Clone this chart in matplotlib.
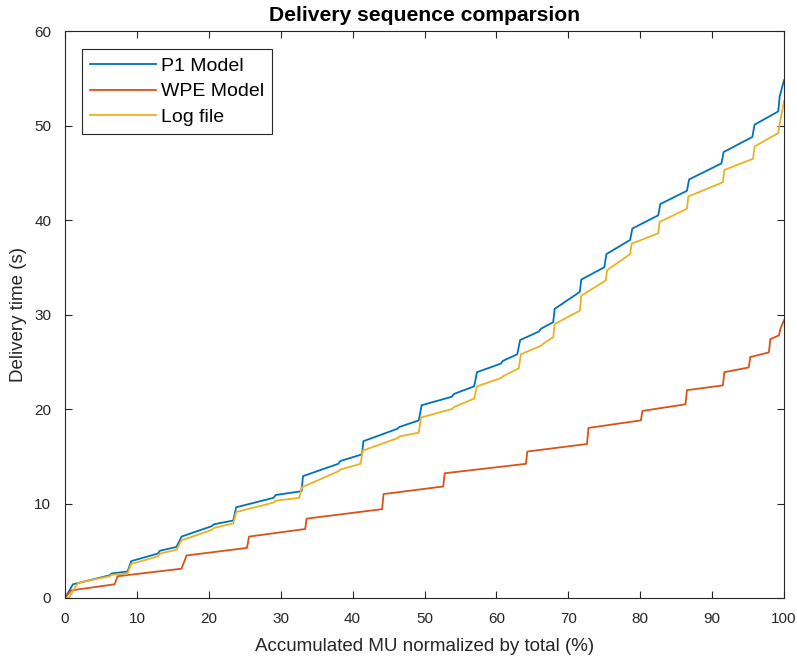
import matplotlib
matplotlib.use("Agg")
from matplotlib import pyplot as plt

# accumulated MU (%) and delivery time (s) for each curve
p1_mu = [0, 1.1, 6.2, 6.5, 8.7, 9.2,
         12.9, 13.2, 15.5, 16.2, 20.4, 20.7, 23.4, 23.8,
         29.0, 29.3, 32.9, 33.1, 38.0, 38.3, 41.3, 41.5,
         46.2, 46.5, 49.2, 49.6, 53.8, 54.1, 56.9, 57.3,
         60.6, 60.9, 62.9, 63.3, 65.9, 66.2, 67.9, 68.1,
         71.6, 71.8, 75.0, 75.3, 78.6, 78.9, 82.5, 82.8,
         86.5, 86.8, 91.3, 91.6, 95.6, 95.9, 99.2, 99.4, 100]
p1_time = [0, 1.45, 2.4, 2.6, 2.8, 3.9,
           4.7, 5.0, 5.4, 6.5, 7.6, 7.8, 8.2, 9.6,
           10.6, 10.9, 11.3, 12.9, 14.2, 14.5, 15.2, 16.6,
           17.9, 18.1, 18.8, 20.4, 21.3, 21.6, 22.4, 23.9,
           24.8, 25.1, 25.8, 27.3, 28.2, 28.5, 29.2, 30.6,
           32.4, 33.7, 35.0, 36.4, 37.9, 39.1, 40.5, 41.7,
           43.1, 44.3, 46.0, 47.2, 48.8, 50.1, 51.5, 53.1, 54.8]

wpe_mu = [0, 0.85, 6.9, 7.3, 16.2, 16.9, 25.3, 25.6, 33.4, 33.6,
          44.1, 44.3, 52.6, 52.8, 64.1, 64.3, 72.6, 72.8, 80.1, 80.3,
          86.3, 86.5, 91.5, 91.7, 95.1, 95.3, 97.9, 98.1, 99.3, 99.5, 100]
wpe_time = [0, 0.8, 1.45, 2.3, 3.1, 4.5, 5.3, 6.5, 7.3, 8.4,
            9.4, 11.0, 11.8, 13.2, 14.2, 15.5, 16.3, 18.0, 18.8, 19.8,
            20.5, 22.0, 22.5, 23.9, 24.4, 25.5, 26.0, 27.4, 27.8, 28.5, 29.4]

log_mu = [0, 0.5, 1.8, 6.2, 6.5, 8.7, 9.2,
          12.9, 13.2, 15.5, 16.2, 20.4, 20.7, 23.4, 23.8,
          29.0, 29.3, 32.6, 32.9, 38.0, 38.3, 41.1, 41.4,
          46.2, 46.5, 49.2, 49.5, 53.8, 54.1, 56.9, 57.3,
          60.7, 61.0, 63.1, 63.4, 66.2, 66.5, 67.9, 68.1,
          71.6, 71.8, 75.2, 75.4, 78.6, 78.8, 82.5, 82.7,
          86.5, 86.7, 91.5, 91.7, 95.7, 95.9, 99.2, 99.4, 100]
log_time = [0, 0, 1.6, 2.3, 2.45, 2.6, 3.6,
            4.4, 4.7, 5.1, 6.1, 7.2, 7.4, 7.9, 9.1,
            10.1, 10.3, 10.6, 11.7, 13.4, 13.6, 14.2, 15.6,
            16.9, 17.1, 17.5, 19.1, 20.0, 20.2, 21.1, 22.4,
            23.3, 23.5, 24.3, 25.8, 26.7, 26.9, 27.6, 29.0,
            30.4, 32.0, 33.6, 34.7, 36.4, 37.5, 38.6, 39.8,
            41.2, 42.5, 44.0, 45.3, 46.5, 47.8, 49.2, 50.2, 52.6]

x_ticks = list(range(0, 101, 10))
y_ticks = list(range(0, 61, 10))

plt.rcParams['font.family'] = ['Liberation Sans', 'DejaVu Sans']
dark = '#262626'

fig = plt.figure(figsize=(7.97, 6.62), dpi=100)
ax = fig.add_axes([0.0816, 0.0967, 0.9021, 0.8563])

ax.plot(p1_mu, p1_time, color='#0072BD', lw=1.3, label='P1 Model')
ax.plot(wpe_mu, wpe_time, color='#D95319', lw=1.3, label='WPE Model')
ax.plot(log_mu, log_time, color='#EDB120', lw=1.3, label='Log file')

ax.set_xlim(0, 100)
ax.set_ylim(0, 60)
ax.set_xticks(x_ticks)
ax.set_yticks(y_ticks)
ax.tick_params(direction='in', top=True, right=True, length=5, width=0.8,
               colors=dark, labelsize=11, pad=10)
for s in ax.spines.values():
    s.set_color(dark)
    s.set_linewidth(0.8)

ax.set_xlabel('Accumulated MU normalized by total (%)', fontsize=13.5, color=dark, labelpad=9)
ax.set_ylabel('Delivery time (s)', fontsize=13.5, color=dark, labelpad=5)
ax.set_title('Delivery sequence comparsion', fontsize=15.2, fontweight='bold', pad=7)

leg = ax.legend(loc='upper left', bbox_to_anchor=(0.024, 0.968), borderaxespad=0,
                fontsize=14, handlelength=3.4, handletextpad=0.25, borderpad=0.4,
                labelspacing=0.42, fancybox=False, framealpha=1, edgecolor=dark)
leg.get_frame().set_linewidth(0.8)

fig.savefig('out.png', dpi=100)
